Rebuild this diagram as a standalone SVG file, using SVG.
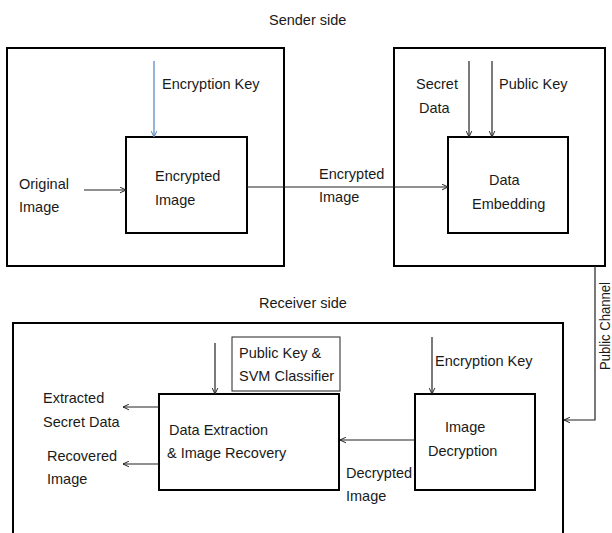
<svg xmlns="http://www.w3.org/2000/svg" width="612" height="533" viewBox="0 0 612 533">
<style>
text{font-family:"Liberation Sans",Arial,sans-serif;font-size:14.5px;fill:#1a1a1a}
.box{fill:#fff;stroke:#000;stroke-width:2}
.thin{fill:#fff;stroke:#222;stroke-width:1}
.ln{fill:none;stroke:#222;stroke-width:1.2}
.blue{fill:none;stroke:#4F81BD;stroke-width:1.2}
</style>
<defs>
<marker id="ah" viewBox="0 0 10 10" refX="9.5" refY="5" markerWidth="7" markerHeight="7" markerUnits="userSpaceOnUse" orient="auto">
<path d="M1,1 L9.5,5 L1,9" fill="none" stroke="#222" stroke-width="1.4"/>
</marker>
<marker id="ahb" viewBox="0 0 10 10" refX="9.5" refY="5" markerWidth="7" markerHeight="7" markerUnits="userSpaceOnUse" orient="auto">
<path d="M1,1 L9.5,5 L1,9" fill="none" stroke="#4F81BD" stroke-width="1.4"/>
</marker>
</defs>
<rect width="612" height="533" fill="#fff"/>
<text x="269" y="25">Sender side</text>
<text x="259" y="308">Receiver side</text>
<g id="sender-left">
<rect class="box" x="7" y="48" width="277" height="218"/>
<text x="19" y="189">Original</text>
<text x="19" y="212">Image</text>
<text x="162" y="89">Encryption Key</text>
</g>
<g id="sender-right">
<rect class="box" x="394" y="48" width="211" height="218"/>
<text x="416" y="89">Secret</text>
<text x="419" y="113">Data</text>
<text x="499" y="89">Public Key</text>
</g>
<g id="receiver">
<rect class="box" x="13" y="323" width="550" height="230"/>
<text x="435" y="366">Encryption Key</text>
<text x="43" y="403">Extracted</text>
<text x="43" y="427">Secret Data</text>
<text x="47" y="461">Recovered</text>
<text x="47" y="484">Image</text>
</g>
<g id="encrypted-image">
<rect class="box" x="126" y="137" width="121" height="96"/>
<text x="155" y="181">Encrypted</text>
<text x="155" y="205">Image</text>
</g>
<g id="data-embedding">
<rect class="box" x="448" y="137" width="120" height="96"/>
<text x="489" y="185">Data</text>
<text x="472" y="209">Embedding</text>
</g>
<g id="public-key-svm">
<rect class="thin" x="232" y="337" width="108" height="54"/>
<text x="239" y="358">Public Key &amp;</text>
<text x="239" y="381">SVM Classifier</text>
</g>
<g id="data-extraction">
<rect class="box" x="159" y="394" width="180" height="96"/>
<text x="169" y="435">Data Extraction</text>
<text x="167" y="458">&amp; Image Recovery</text>
</g>
<g id="image-decryption">
<rect class="box" x="415" y="394" width="120" height="96"/>
<text x="445" y="432">Image</text>
<text x="428" y="456">Decryption</text>
</g>
<g id="connectors">
<line class="blue" x1="154" y1="61" x2="154" y2="137" marker-end="url(#ahb)"/>
<line class="ln" x1="84" y1="190" x2="126" y2="190" marker-end="url(#ah)"/>
<line class="ln" x1="247" y1="187" x2="448" y2="187" marker-end="url(#ah)"/>
<text x="319" y="179">Encrypted</text>
<text x="319" y="202">Image</text>
<line class="ln" x1="469" y1="61" x2="469" y2="137" marker-end="url(#ah)"/>
<line class="ln" x1="492" y1="61" x2="492" y2="137" marker-end="url(#ah)"/>
<polyline class="ln" points="595,266 595,420 564,420" marker-end="url(#ah)"/>
<text transform="translate(610,370) rotate(-90)" style="font-size:15.5px" textLength="88" lengthAdjust="spacingAndGlyphs">Public Channel</text>
<line class="ln" x1="215" y1="343" x2="215" y2="394" marker-end="url(#ah)"/>
<line class="ln" x1="432" y1="337" x2="432" y2="394" marker-end="url(#ah)"/>
<line class="ln" x1="415" y1="440" x2="340" y2="440" marker-end="url(#ah)"/>
<text x="346" y="478">Decrypted</text>
<text x="346" y="501">Image</text>
<line class="ln" x1="159" y1="407" x2="123" y2="407" marker-end="url(#ah)"/>
<line class="ln" x1="159" y1="464" x2="123" y2="464" marker-end="url(#ah)"/>
</g>
</svg>
